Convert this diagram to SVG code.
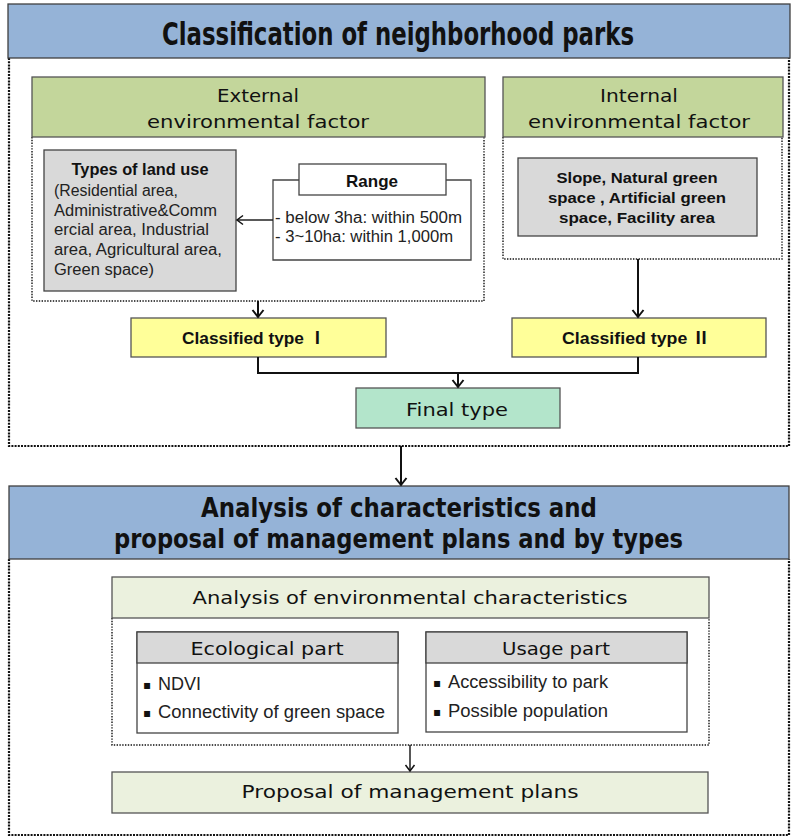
<svg xmlns="http://www.w3.org/2000/svg" width="792" height="837" viewBox="0 0 792 837">
<style>
.title{fill:#95b3d7;stroke:#404040;stroke-width:1.3}
.ttl{font-family:'Liberation Sans Narrow','DejaVu Sans Condensed','DejaVu Sans',sans-serif;font-weight:bold;fill:#111;text-anchor:middle}
.outer{fill:none;stroke:#111;stroke-width:2.2;stroke-dasharray:2 1.2}
.inner{fill:none;stroke:#111;stroke-width:1.4;stroke-dasharray:1.4 1.4}
.green{fill:#c3d69b;stroke:#555;stroke-width:1.3}
.gray{fill:#d9d9d9;stroke:#444;stroke-width:1.3}
.white{fill:#fff;stroke:#444;stroke-width:1.3}
.yellow{fill:#ffff99;stroke:#555;stroke-width:1.3}
.final{fill:#b3e5cb;stroke:#555;stroke-width:1.3}
.pale{fill:#ebf1de;stroke:#555;stroke-width:1.3}
.geo{font-family:'DejaVu Sans',sans-serif;fill:#111;text-anchor:middle}
.ar{font-family:'Liberation Sans',Arial,sans-serif;fill:#222}
.arb{font-family:'Liberation Sans',Arial,sans-serif;font-weight:bold;fill:#111;text-anchor:middle}
.cls{font-family:'Liberation Sans','Noto Sans CJK KR',sans-serif;font-weight:bold;fill:#111}
.conn{fill:none;stroke:#111;stroke-width:2}
.bul{font-family:'DejaVu Sans',sans-serif;fill:#111}
</style>
<defs>
<marker id="ah" markerUnits="userSpaceOnUse" markerWidth="14" markerHeight="14" refX="11" refY="7" orient="auto">
<path d="M4,1.5 L11,7 L4,12.5" fill="none" stroke="#111" stroke-width="2"/>
</marker>
<marker id="ahs" markerUnits="userSpaceOnUse" markerWidth="12" markerHeight="12" refX="9" refY="6" orient="auto">
<path d="M3,1.5 L9,6 L3,10.5" fill="none" stroke="#111" stroke-width="1.5"/>
</marker>
</defs>

<g id="frame1">
<path class="outer" d="M9,58 V446 H789 V58"/>
</g>
<g id="title1">
<rect class="title" x="8" y="4" width="782" height="54"/>
<text class="ttl" x="398" y="45" font-size="32" textLength="472" lengthAdjust="spacingAndGlyphs">Classification of neighborhood parks</text>
</g>

<g id="external">
<path class="inner" d="M32,137 V301 H484 V137"/>
<rect class="green" x="32" y="77" width="453" height="60"/>
<text class="geo" x="258" y="102" font-size="17" textLength="82" lengthAdjust="spacingAndGlyphs">External</text>
<text class="geo" x="258" y="128" font-size="17" textLength="222" lengthAdjust="spacingAndGlyphs">environmental factor</text>
</g>

<g id="landuse">
<rect class="gray" x="44" y="150" width="192" height="141"/>
<text class="arb" x="140" y="175" font-size="16" textLength="137" lengthAdjust="spacingAndGlyphs">Types of land use</text>
<text class="ar" x="54" y="196" font-size="16" textLength="124" lengthAdjust="spacingAndGlyphs">(Residential area,</text>
<text class="ar" x="54" y="216" font-size="16" textLength="163" lengthAdjust="spacingAndGlyphs">Administrative&amp;Comm</text>
<text class="ar" x="54" y="235" font-size="16" textLength="155" lengthAdjust="spacingAndGlyphs">ercial area, Industrial</text>
<text class="ar" x="54" y="255" font-size="16" textLength="168" lengthAdjust="spacingAndGlyphs">area, Agricultural area,</text>
<text class="ar" x="54" y="275" font-size="16" textLength="100" lengthAdjust="spacingAndGlyphs">Green space)</text>
</g>

<g id="range">
<path class="white" d="M299,180 H273 V260 H471 V180 H446"/>
<rect class="white" x="299" y="164" width="147" height="31"/>
<text class="arb" x="372" y="187" font-size="17">Range</text>
<text class="ar" x="275" y="223" font-size="16" textLength="187" lengthAdjust="spacingAndGlyphs">- below 3ha:  within  500m</text>
<text class="ar" x="275" y="242" font-size="16" textLength="178" lengthAdjust="spacingAndGlyphs">- 3~10ha:  within  1,000m</text>
</g>

<g id="internal">
<path class="inner" d="M503,137 V259 H782 V137"/>
<rect class="green" x="503" y="77" width="280" height="60"/>
<text class="geo" x="639" y="102" font-size="17" textLength="78" lengthAdjust="spacingAndGlyphs">Internal</text>
<text class="geo" x="639" y="128" font-size="17" textLength="222" lengthAdjust="spacingAndGlyphs">environmental factor</text>
</g>

<g id="internalFactors">
<rect class="gray" x="518" y="158" width="239" height="78"/>
<text class="arb" x="637" y="183" font-size="15" textLength="161" lengthAdjust="spacingAndGlyphs">Slope, Natural  green</text>
<text class="arb" x="637" y="203" font-size="15" textLength="178" lengthAdjust="spacingAndGlyphs">space , Artificial green</text>
<text class="arb" x="637" y="223" font-size="15" textLength="156" lengthAdjust="spacingAndGlyphs">space, Facility area</text>
</g>

<g id="classified1">
<rect class="yellow" x="131" y="318" width="255" height="39"/>
<text class="cls" x="182" y="344" font-size="17" textLength="144" lengthAdjust="spacingAndGlyphs">Classified type  Ⅰ</text>
</g>
<g id="classified2">
<rect class="yellow" x="512" y="318" width="254" height="39"/>
<text class="cls" x="562" y="344" font-size="17" textLength="148" lengthAdjust="spacingAndGlyphs">Classified type  Ⅱ</text>
</g>
<g id="finaltype">
<rect class="final" x="356" y="388" width="204" height="40"/>
<text class="geo" x="457" y="416" font-size="18" textLength="102" lengthAdjust="spacingAndGlyphs">Final type</text>
</g>

<g id="frame2">
<path class="outer" d="M9,559 V835 H789 V559"/>
</g>
<g id="title2">
<rect class="title" x="9" y="486" width="780" height="73"/>
<text class="ttl" x="399" y="517" font-size="27" textLength="396" lengthAdjust="spacingAndGlyphs">Analysis of characteristics and</text>
<text class="ttl" x="398.5" y="548" font-size="27" textLength="569" lengthAdjust="spacingAndGlyphs">proposal of management plans and by types</text>
</g>

<g id="analysis">
<path class="inner" d="M112,618 V745 H709 V618"/>
<rect class="pale" x="112" y="577" width="597" height="41"/>
<text class="geo" x="410" y="604" font-size="17" textLength="435" lengthAdjust="spacingAndGlyphs">Analysis of environmental characteristics</text>
</g>

<g id="ecological">
<rect class="white" x="137" y="632" width="261" height="101"/>
<rect class="gray" x="137" y="632" width="261" height="31"/>
<text class="geo" x="267" y="655" font-size="17" textLength="153" lengthAdjust="spacingAndGlyphs">Ecological part</text>
<text class="bul" x="143" y="689" font-size="12">▪</text>
<text class="ar" x="158" y="690" font-size="18" fill="#111">NDVI</text>
<text class="bul" x="143" y="717" font-size="12">▪</text>
<text class="ar" x="158" y="718" font-size="18" textLength="227" lengthAdjust="spacingAndGlyphs">Connectivity of green space</text>
</g>

<g id="usage">
<rect class="white" x="426" y="632" width="261" height="100"/>
<rect class="gray" x="426" y="632" width="261" height="31"/>
<text class="geo" x="556" y="655" font-size="17" textLength="108" lengthAdjust="spacingAndGlyphs">Usage part</text>
<text class="bul" x="433" y="687" font-size="12">▪</text>
<text class="ar" x="448" y="688" font-size="18" textLength="160" lengthAdjust="spacingAndGlyphs">Accessibility to park</text>
<text class="bul" x="433" y="716" font-size="12">▪</text>
<text class="ar" x="448" y="717" font-size="18" textLength="160" lengthAdjust="spacingAndGlyphs">Possible population</text>
</g>

<g id="proposal">
<rect class="pale" x="112" y="772" width="596" height="41"/>
<text class="geo" x="410" y="798" font-size="17" textLength="337" lengthAdjust="spacingAndGlyphs">Proposal of management plans</text>
</g>

<g id="connectors">
<line x1="273" y1="220" x2="237" y2="220" stroke="#222" stroke-width="1.6" marker-end="url(#ahs)"/>
<line class="conn" x1="258" y1="301" x2="258" y2="317" marker-end="url(#ah)"/>
<line class="conn" x1="638" y1="259" x2="638" y2="317" marker-end="url(#ah)"/>
<path class="conn" d="M258,357 V373 H638 V357"/>
<line class="conn" x1="458" y1="373" x2="458" y2="387" marker-end="url(#ah)"/>
<line class="conn" x1="401" y1="446" x2="401" y2="485" stroke-width="2.5" marker-end="url(#ah)"/>
<line x1="410" y1="745" x2="410" y2="771" stroke="#111" stroke-width="1.4" marker-end="url(#ahs)"/>
</g>
</svg>
